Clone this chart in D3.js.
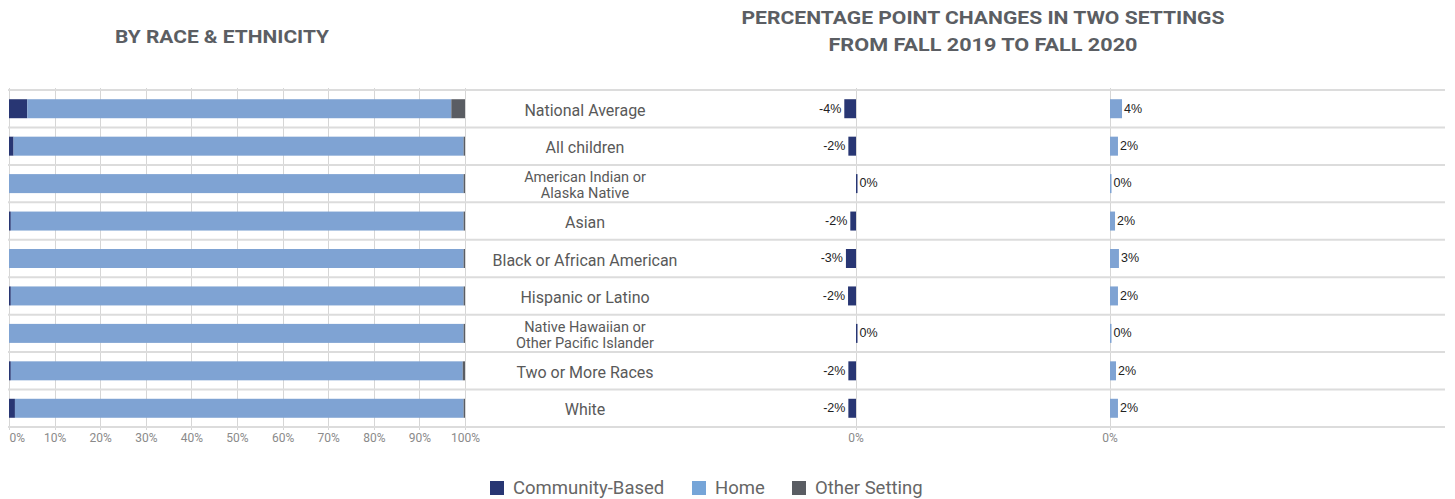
<!DOCTYPE html>
<html>
<head>
<meta charset="utf-8">
<script src="https://cdn.jsdelivr.net/npm/d3@7"></script>
<style>
  html, body { margin: 0; padding: 0; background: #fff; }
  svg { display: block; font-family: Roboto, sans-serif; }
</style>
</head>
<body>
<div id="chart"></div>
<script>
const categories = [
  "National Average", "All children", "American Indian or\nAlaska Native", "Asian",
  "Black or African American", "Hispanic or Latino",
  "Native Hawaiian or\nOther Pacific Islander", "Two or More Races", "White"
];
const communityShare = [4, 1, 0, 0.4, 0, 0.4, 0, 0.4, 1.3];
const homeShare      = [93, 98.7, 99.7, 99.3, 99.7, 99.3, 99.7, 99.1, 98.4];
const otherShare     = [3, 0.3, 0.3, 0.3, 0.3, 0.3, 0.3, 0.5, 0.3];
const communityChange = [-3.6, -2.35, 0, -1.75, -3.1, -2.45, 0, -2.35, -2.35];
const homeChange      = [3.7, 2.45, 0, 1.55, 2.75, 2.45, 0, 1.85, 2.45];
const shareTicks = [0, 10, 20, 30, 40, 50, 60, 70, 80, 90, 100];
const settings = ["Community-Based", "Home", "Other Setting"];

const width = 1455, height = 499;
const colors = { "Community-Based": "#283673", "Home": "#7fa3d3", "Other Setting": "#5a5d63" };

const svg = d3.select("#chart").append("svg")
  .attr("width", width).attr("height", height);

// titles
svg.append("text").attr("x", 222).attr("y", 43).attr("text-anchor", "middle")
  .attr("font-size", 19).attr("font-weight", "bold").attr("fill", "#5b5e63")
  .attr("textLength", 214).attr("lengthAdjust", "spacingAndGlyphs")
  .text("BY RACE & ETHNICITY");
[["PERCENTAGE POINT CHANGES IN TWO SETTINGS", 24, 483], ["FROM FALL 2019 TO FALL 2020", 51, 309]]
  .forEach(([t, y, len]) => {
    svg.append("text").attr("x", 983).attr("y", y).attr("text-anchor", "middle")
      .attr("font-size", 19).attr("font-weight", "bold").attr("fill", "#5b5e63")
      .attr("textLength", len).attr("lengthAdjust", "spacingAndGlyphs")
      .text(t);
  });

const y = d3.scaleBand().domain(d3.range(categories.length)).range([90, 427]);
const barH = 19;
const x = d3.scaleLinear([0, 100], [9, 465]);
const xc = d3.scaleLinear([-10, 10], [856 - 32.5, 856 + 32.5]);
const xh = d3.scaleLinear([-10, 10], [1110 - 32.5, 1110 + 32.5]);

// gridlines
const grid = svg.append("g").attr("stroke", "#d6d6d6").attr("stroke-width", 1);
grid.selectAll("line.v").data(shareTicks).join("line")
  .attr("x1", d => Math.round(x(d)) + 0.5).attr("x2", d => Math.round(x(d)) + 0.5)
  .attr("y1", 88).attr("y2", 430);
[xc(0), xh(0)].forEach(px => {
  grid.append("line").attr("x1", Math.round(px) + 0.5).attr("x2", Math.round(px) + 0.5)
    .attr("y1", 88).attr("y2", 430);
});
svg.append("g").selectAll("line").data(d3.range(categories.length + 1)).join("line")
  .attr("x1", 8).attr("x2", 1445)
  .attr("y1", i => y.range()[0] + i * y.step())
  .attr("y2", i => y.range()[0] + i * y.step())
  .attr("stroke", "#dcdcdc").attr("stroke-width", 2);

// stacked share bars
const rows = categories.map((c, i) => ({
  i, parts: [
    ["Community-Based", communityShare[i]],
    ["Home", homeShare[i]],
    ["Other Setting", otherShare[i]]
  ]
}));
const stackG = svg.append("g");
rows.forEach(r => {
  let acc = 0;
  r.parts.forEach(([k, v]) => {
    if (v > 0) {
      stackG.append("rect")
        .attr("x", x(acc)).attr("width", x(acc + v) - x(acc))
        .attr("y", y(r.i) + (y.bandwidth() - barH) / 2).attr("height", barH)
        .attr("fill", colors[k]);
    }
    acc += v;
  });
});

// share axis
const ax = svg.append("g").attr("transform", "translate(0,430)")
  .call(d3.axisBottom(x).tickValues(shareTicks).tickFormat(d => d + "%").tickSize(0).tickPadding(3))
  .call(g => g.select(".domain").remove());
ax.selectAll("text").attr("fill", "#8a8a8a").attr("font-size", 12).attr("font-family", "Roboto, sans-serif")
  .attr("text-anchor", d => d === 0 ? "start" : "middle");

// category labels
const catG = svg.append("g").attr("fill", "#595959").attr("text-anchor", "middle");
categories.forEach((c, i) => {
  const lines = c.split("\n");
  const cy = y(i) + y.bandwidth() / 2 + 1.5;
  const lh = 16.5;
  const t = catG.append("text").attr("x", 585)
    .attr("font-size", lines.length > 1 ? 14.5 : 16)
    .attr("y", cy - (lines.length - 1) * lh / 2);
  lines.forEach((l, j) => t.append("tspan").attr("x", 585).attr("dy", j === 0 ? "0.35em" : lh).text(l));
});

// change bars
const fmt = v => Math.round(v) + "%";
function changePanel(scale, values, color) {
  const g = svg.append("g");
  values.forEach((v, i) => {
    const x0 = scale(Math.min(0, v)), x1 = scale(Math.max(0, v));
    const w = Math.max(1.5, x1 - x0);
    g.append("rect")
      .attr("x", v < 0 ? x1 - w : x0).attr("width", w)
      .attr("y", y(i) + (y.bandwidth() - barH) / 2).attr("height", barH)
      .attr("fill", color);
    g.append("text")
      .attr("x", v < 0 ? x0 - 3 : x0 + w + 2)
      .attr("y", y(i) + y.bandwidth() / 2 - 0.5).attr("dy", "0.35em")
      .attr("text-anchor", v < 0 ? "end" : "start")
      .attr("font-size", 12.5).attr("fill", "#222")
      .attr("font-family", "'Liberation Sans', Arial, sans-serif")
      .text(fmt(v) === "-0%" ? "0%" : fmt(v));
  });
  svg.append("text").attr("x", scale(0)).attr("y", 438).attr("dy", "0.35em").attr("text-anchor", "middle")
    .attr("font-size", 12).attr("fill", "#8a8a8a").text("0%");
}
changePanel(xc, communityChange, colors["Community-Based"]);
changePanel(xh, homeChange, colors["Home"]);

// legend
const legendX = [490, 692, 792];
const lg = svg.append("g");
settings.forEach((s, i) => {
  lg.append("rect").attr("x", legendX[i]).attr("y", 481).attr("width", 14).attr("height", 14)
    .attr("fill", s === "Home" ? "#76a5d8" : colors[s]);
  lg.append("text").attr("x", legendX[i] + 23).attr("y", 488).attr("dy", "0.35em")
    .attr("font-size", 18.5).attr("fill", "#666").text(s);
});
</script>
</body>
</html>
